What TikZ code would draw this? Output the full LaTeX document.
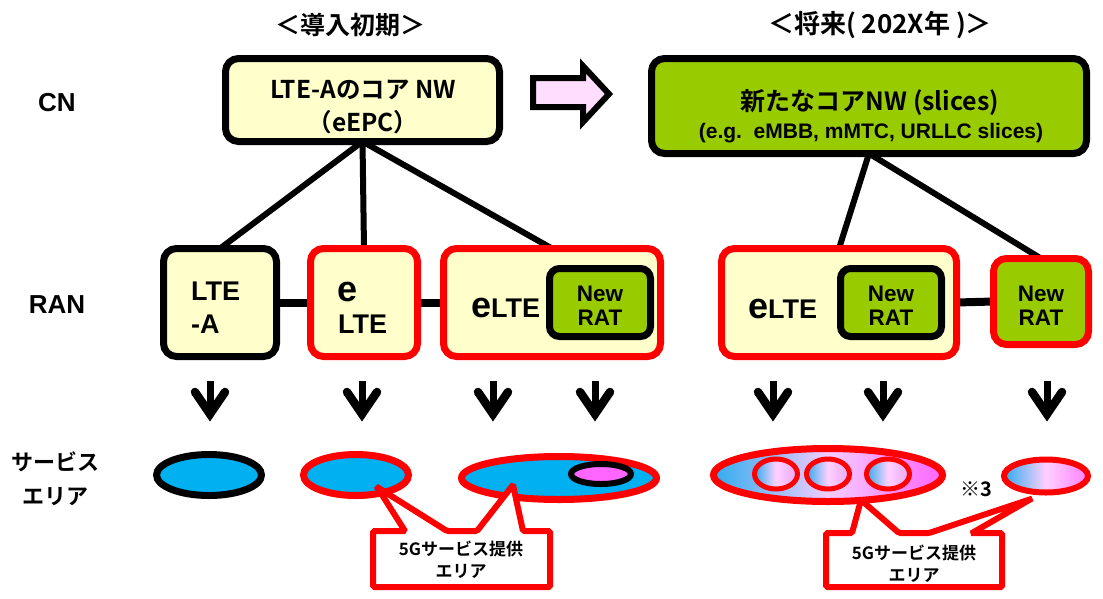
\documentclass[tikz,border=0pt]{standalone}
\usepackage{fontspec}
\setmainfont{Liberation Sans}
\newfontfamily\jp{Noto Sans CJK JP}[BoldFont={Noto Sans CJK JP Bold}]
\usetikzlibrary{shapes.geometric,backgrounds}
\definecolor{lyel}{HTML}{FFFFCC}
\definecolor{lgreen}{HTML}{99CC00}
\definecolor{cyanb}{HTML}{00B0F0}
\definecolor{mag}{HTML}{FF66FF}
\definecolor{apink}{HTML}{FFDDFF}
\definecolor{gblue}{HTML}{30ACEE}
\definecolor{gpale}{HTML}{F4CCFF}
\definecolor{cpale}{HTML}{FFD0FF}
\definecolor{cright}{HTML}{E8A8F4}
\definecolor{eright}{HTML}{FF80FF}
\newcommand{\myfs}[1]{\fontsize{#1}{#1}\selectfont}
\begin{document}
\begin{tikzpicture}[x=1pt,y=-1pt,
  lbl/.style={font=\bfseries\myfs{26}},
  jlbl/.style={font=\jp\bfseries\fontsize{22}{34}\selectfont, align=center},
  ttl/.style={font=\jp\bfseries\myfs{25}},
  ybox/.style={rectangle, rounded corners=13pt, fill=lyel, draw=black, line width=7pt, inner sep=0pt, outer sep=0pt},
  rbox/.style={ybox, draw=red},
  nrbox/.style={ybox, fill=lgreen, rounded corners=10pt},
  ltxt/.style={font=\bfseries\myfs{27}, inner sep=0pt},
  nrtxt/.style={font=\bfseries\fontsize{22.5}{24}\selectfont, align=center, inner sep=0pt},
  cntxt/.style={font=\jp\bfseries\myfs{24.5}, inner sep=0pt},
  cnline/.style={line width=6pt},
  ranline/.style={line width=8pt},
  area/.style={ellipse, draw=red, line width=7pt, inner sep=0pt, outer sep=0pt, fill=cyanb},
  callout/.style={draw=red, fill=white, line width=6pt, rounded corners=1.5pt},
  cotxt/.style={font=\jp\bfseries\fontsize{17}{22}\selectfont, align=center, inner sep=0pt},
  stem/.style={line width=7pt},
  chev/.style={line width=8.5pt, line cap=round, miter limit=10}
]
\useasboundingbox (0,0) rectangle (1103,598);

% titles and row labels
\node[ttl] (t1) at (350,25) {＜導入初期＞};
\node[ttl, font=\jp\bfseries\myfs{26}] (t2) at (880,25) {＜将来(\ 202X年\ )＞};
\node[lbl] (cn) at (57,103) {CN};
\node[lbl] (ran) at (57,305) {RAN};
\node[jlbl] (sa) at (56,479) {サービス\\エリア};

% core network boxes
\node[ybox, minimum width=274pt, minimum height=83pt] (cnL) at (362.5,100) {};
\node[cntxt, anchor=base] (cnLa) at (363,98) {LTE-Aのコア NW};
\node[cntxt, anchor=base] (cnLb) at (363,131) {（eEPC）};
\node[ybox, fill=lgreen, minimum width=435pt, minimum height=95pt] (cnR) at (869,106) {};
\node[font=\jp\bfseries\myfs{25}, inner sep=0pt, anchor=base] (cnRa) at (870,110) {新たなコアNW (slices)};
\node[font=\bfseries\myfs{21}, inner sep=0pt, anchor=base] (cnRb) at (871,138) {(e.g.\ \ eMBB, mMTC, URLLC slices)};

% transition arrow
\draw[line width=6pt, fill=apink, miter limit=10] (533,78) -- (583,78) -- (583,66) -- (609,94) -- (583,122) -- (583,107) -- (533,107) -- cycle;

% RAN boxes
\node[ybox, minimum width=113pt, minimum height=108pt] (ltea) at (220,302.5) {};
\node[ltxt, anchor=base west] (tl1) at (191,300) {LTE};
\node[ltxt, anchor=base west] (tl2) at (191,333) {-A};

\node[rbox, minimum width=107pt, minimum height=108pt] (elte1) at (364,302.5) {};
\node[ltxt, font=\bfseries\myfs{36}, anchor=base west] (te1) at (337,301) {e};
\node[ltxt, anchor=base west] (te2) at (338,333) {LTE};

\node[rbox, minimum width=217pt, minimum height=108pt] (elte2) at (552,302.5) {};
\node[ltxt, anchor=base west] (te3) at (471,317) {{\myfs{36}e}LTE};
\node[nrbox, minimum width=101pt, minimum height=68pt] (nr1) at (600,302.5) {};
\node[nrtxt] (tn1) at (600,306) {New\\RAT};

\node[rbox, minimum width=235pt, minimum height=108pt] (elte3) at (839,302.5) {};
\node[ltxt, anchor=base west] (te4) at (748,318) {{\myfs{36}e}LTE};
\node[nrbox, minimum width=101pt, minimum height=68pt] (nr2) at (891,302.5) {};
\node[nrtxt] (tn2) at (891,306) {New\\RAT};

\node[nrbox, draw=red, rounded corners=13pt, minimum width=95pt, minimum height=86pt] (nr3) at (1041,301.5) {};
\node[nrtxt] (tn3) at (1041,306) {New\\RAT};

\begin{pgfonlayer}{background}
\draw[cnline] (cnL.south) -- (ltea.north);
\draw[cnline] (cnL.south) -- (elte1.north);
\draw[cnline] (cnL.south) -- (elte2.north);
\draw[cnline] (cnR.south) -- (elte3.north);
\draw[cnline] (cnR.south) -- (nr3.north);
\draw[ranline] (ltea.east) -- (elte1.west);
\draw[ranline] (elte1.east) -- (elte2.west);
\draw[ranline] (elte3.east) -- (nr3.west);
\end{pgfonlayer}

% down arrows
\foreach \x in {210,362,493,595,773,883,1047}{
  \draw[stem] (\x,381) -- (\x,410);
  \draw[chev] (\x-15,392) -- (\x,414) -- (\x+15,392);
}

% service areas
\node[area, draw=black, minimum width=105pt, minimum height=41pt] (a1) at (209,475) {};
\node[area, minimum width=105pt, minimum height=41pt] (a2) at (356,475) {};
\node[area, minimum width=195pt, minimum height=43pt] (a3) at (559,478) {};
\node[area, draw=black, fill=mag, line width=6pt, minimum width=60pt, minimum height=20pt] (a3i) at (601,474) {};
\node[area, left color=gblue, right color=mag, middle color=gpale, minimum width=229pt, minimum height=53pt] (a4) at (828,475) {};
\node[area, line width=5pt, left color=gblue, right color=cright, middle color=cpale, minimum width=43pt, minimum height=30pt] (c1) at (776,474) {};
\node[area, line width=5pt, left color=gblue, right color=cright, middle color=cpale, minimum width=43pt, minimum height=30pt] (c2) at (828,474) {};
\node[area, line width=5pt, left color=gblue, right color=cright, middle color=cpale, minimum width=43pt, minimum height=30pt] (c3) at (888,474) {};
\node[area, line width=6pt, left color=gblue, right color=eright, middle color=cpale, minimum width=84pt, minimum height=33pt] (a5) at (1046,476) {};
\node[font=\jp\bfseries\myfs{20}, inner sep=0pt] (n3) at (976,489) {※3};

% callouts
\coordinate (p1) at (377,487);
\coordinate (p2) at (513,485);
\draw[callout] (373,531) -- (405,531) -- (p1) -- (447,531) -- (477,531) -- (p2) -- (523,531) -- (550,531) -- (550,587) -- (373,587) -- cycle;
\node[cotxt] (co1) at (461,560) {5Gサービス提供\\エリア};

\coordinate (q1) at (861,500);
\coordinate (q2) at (1031,499);
\draw[callout] (826,533) -- (852,533) -- (q1) -- (899,533) -- (929,533) -- (q2) -- (972,533) -- (1002,533) -- (1002,587) -- (826,587) -- cycle;
\node[cotxt] (co2) at (914,564) {5Gサービス提供\\エリア};
\end{tikzpicture}
\end{document}
